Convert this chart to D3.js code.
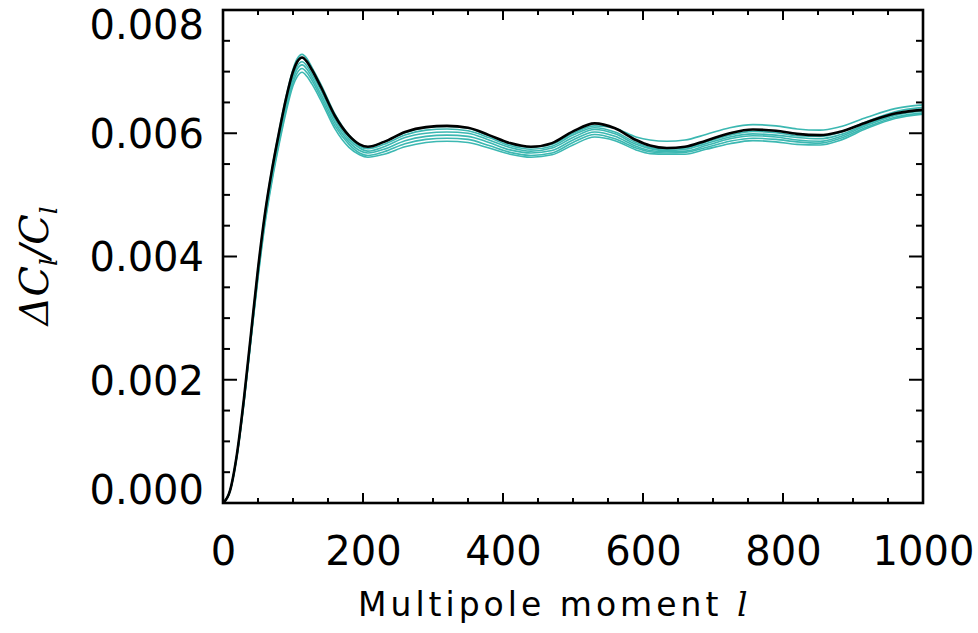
<!DOCTYPE html>
<html>
<head>
<meta charset="utf-8">
<script src="https://cdn.jsdelivr.net/npm/d3@7"></script>
<style>
  html, body { margin: 0; padding: 0; background: #fff; }
  svg { display: block; }
</style>
</head>
<body>
<svg id="chart" width="978" height="633"></svg>
<script>
// ---- data ----
const multipoles = [0,10,20,30,40,50,60,70,80,90,100,106,113,120,127,140,160,180,195,207,230,260,290,320,350,380,410,440,470,500,531,560,590,610,634,660,690,724,757,790,820,853,880,920,960,1000];

const fiducial = [0,0.00020,0.00080,0.00170,0.00275,0.00380,0.00470,0.00541,0.00601,0.00656,0.00700,0.00716,0.00723,0.00716,0.00703,0.00675,0.00628,0.00596,0.00582,0.00578,
  0.00586,0.00602,0.00610,0.00612,0.00609,0.00597,0.00584,0.00578,0.00584,0.00603,0.00616,0.00608,0.00589,0.00580,0.00576,0.00578,0.00588,0.00600,0.00606,0.00604,0.00599,0.00597,0.00602,0.00618,0.00632,0.00638];

const model1 = [0,0.00020,0.00080,0.00170,0.00275,0.00380,0.00471,0.00543,0.00604,0.00659,0.00704,0.00721,0.00728,0.00721,0.00707,0.00679,0.00631,0.00597,0.00582,0.00578,
  0.00586,0.00601,0.00609,0.00611,0.00608,0.00596,0.00583,0.00577,0.00582,0.00600,0.00612,0.00608,0.00594,0.00589,0.00587,0.00589,0.00598,0.00609,0.00614,0.00612,0.00607,0.00605,0.00610,0.00626,0.00640,0.00646];
const model2 = [0,0.00020,0.00079,0.00169,0.00273,0.00377,0.00467,0.00538,0.00599,0.00654,0.00699,0.00715,0.00722,0.00715,0.00702,0.00674,0.00626,0.00594,0.00579,0.00575,
  0.00582,0.00597,0.00605,0.00607,0.00604,0.00593,0.00580,0.00574,0.00579,0.00597,0.00609,0.00602,0.00585,0.00577,0.00574,0.00576,0.00586,0.00597,0.00603,0.00601,0.00596,0.00595,0.00601,0.00619,0.00635,0.00642];
const model3 = [0,0.00020,0.00079,0.00167,0.00271,0.00374,0.00464,0.00534,0.00594,0.00649,0.00693,0.00709,0.00716,0.00709,0.00696,0.00669,0.00622,0.00590,0.00576,0.00571,
  0.00578,0.00593,0.00600,0.00602,0.00600,0.00589,0.00577,0.00571,0.00576,0.00593,0.00606,0.00599,0.00582,0.00575,0.00572,0.00574,0.00583,0.00594,0.00599,0.00597,0.00593,0.00591,0.00597,0.00615,0.00631,0.00638];
const model4 = [0,0.00020,0.00078,0.00166,0.00269,0.00371,0.00460,0.00530,0.00590,0.00644,0.00688,0.00704,0.00711,0.00704,0.00691,0.00663,0.00617,0.00586,0.00572,0.00568,
  0.00574,0.00588,0.00595,0.00597,0.00595,0.00585,0.00573,0.00568,0.00572,0.00589,0.00602,0.00595,0.00579,0.00572,0.00570,0.00571,0.00580,0.00591,0.00596,0.00594,0.00589,0.00587,0.00594,0.00613,0.00629,0.00636];
const model5 = [0,0.00019,0.00077,0.00165,0.00267,0.00368,0.00457,0.00526,0.00585,0.00639,0.00682,0.00698,0.00705,0.00698,0.00686,0.00658,0.00612,0.00582,0.00568,0.00564,
  0.00570,0.00583,0.00590,0.00592,0.00590,0.00580,0.00569,0.00564,0.00568,0.00585,0.00598,0.00591,0.00576,0.00570,0.00568,0.00569,0.00577,0.00587,0.00592,0.00590,0.00586,0.00584,0.00591,0.00610,0.00626,0.00633];
const model6 = [0,0.00019,0.00077,0.00163,0.00265,0.00365,0.00453,0.00522,0.00581,0.00634,0.00677,0.00692,0.00699,0.00692,0.00680,0.00653,0.00607,0.00577,0.00565,0.00561,
  0.00566,0.00578,0.00585,0.00587,0.00585,0.00576,0.00566,0.00561,0.00565,0.00581,0.00594,0.00588,0.00573,0.00567,0.00566,0.00566,0.00574,0.00583,0.00588,0.00586,0.00582,0.00581,0.00588,0.00608,0.00624,0.00631];

const xTickValues = [0,200,400,600,800,1000];
const xTickLabels = ["0","200","400","600","800","1000"];
const yTickValues = [0,0.002,0.004,0.006,0.008];
const yTickLabels = ["0.000","0.002","0.004","0.006","0.008"];
const xMinorStep = 50;
const yMinorStep = 0.0005;

// ---- layout ----
const svg = d3.select("#chart");
const L = 223, R = 923, T = 10, B = 503;
const x = d3.scaleLinear().domain([0, 1000]).range([L, R]);
const y = d3.scaleLinear().domain([0, 0.008]).range([B, T]);

const tealColor = "#3cb8b2";
const tickFont = "'DejaVu Sans', sans-serif";

svg.append("clipPath").attr("id", "plotclip")
  .append("rect").attr("x", L).attr("y", T).attr("width", R - L).attr("height", B - T);

const line = d3.line()
  .x((d, i) => x(multipoles[i]))
  .y(d => y(d))
  .curve(d3.curveMonotoneX);

const g = svg.append("g").attr("clip-path", "url(#plotclip)");
[model6, model5, model4, model3, model2, model1].forEach(s => {
  g.append("path").attr("d", line(s))
    .attr("fill", "none").attr("stroke", tealColor).attr("stroke-width", 1.6);
});
g.append("path").attr("d", line(fiducial))
  .attr("fill", "none").attr("stroke", "#000").attr("stroke-width", 2.6);

// ---- ticks (inside, all four sides) ----
const xMinor = d3.range(0, 1000 + 1e-9, xMinorStep);
const yMinor = d3.range(0, 0.008 + 1e-12, yMinorStep);
const tg = svg.append("g").attr("stroke", "#000").attr("stroke-width", 2);
xMinor.forEach(v => {
  const major = xTickValues.some(t => Math.abs(t - v) < 1e-6);
  const len = major ? 10 : 5;
  tg.append("line").attr("x1", x(v)).attr("x2", x(v)).attr("y1", B).attr("y2", B - len);
  tg.append("line").attr("x1", x(v)).attr("x2", x(v)).attr("y1", T).attr("y2", T + len);
});
yMinor.forEach(v => {
  const major = yTickValues.some(t => Math.abs(t - v) < 1e-9);
  const len = major ? 14 : 7;
  tg.append("line").attr("y1", y(v)).attr("y2", y(v)).attr("x1", L).attr("x2", L + len);
  tg.append("line").attr("y1", y(v)).attr("y2", y(v)).attr("x1", R).attr("x2", R - len);
});

// frame
svg.append("rect").attr("x", L).attr("y", T).attr("width", R - L).attr("height", B - T)
  .attr("fill", "none").attr("stroke", "#000").attr("stroke-width", 2.6);

// ---- tick labels ----
const xAxis = d3.axisBottom(x).tickValues(xTickValues).tickFormat((d, i) => xTickLabels[i]).tickSize(0).tickPadding(0);
const xa = svg.append("g").attr("transform", `translate(0,${B})`).call(xAxis);
xa.select(".domain").remove();
xa.selectAll("text").attr("font-family", tickFont).attr("font-size", 40).attr("fill", "#000")
  .attr("dy", null).attr("y", 62);

const yAxis = d3.axisLeft(y).tickValues(yTickValues).tickFormat((d, i) => yTickLabels[i]).tickSize(0).tickPadding(0);
const ya = svg.append("g").attr("transform", `translate(${L - 19},0)`).call(yAxis);
ya.select(".domain").remove();
ya.selectAll("text").attr("font-family", tickFont).attr("font-size", 40).attr("fill", "#000")
  .attr("dy", (d, i) => i === 0 ? "-0.0em" : (i === yTickValues.length - 1 ? "0.72em" : "0.36em"));

// ---- axis titles ----
const xt = svg.append("text").attr("x", 358).attr("y", 616).attr("text-anchor", "start")
  .attr("font-family", tickFont).attr("font-size", 33).attr("fill", "#000").attr("letter-spacing", 4);
xt.append("tspan").text("Multipole moment ");
xt.append("tspan").attr("font-family", "'DejaVu Serif', serif").attr("font-style", "italic").text("l");

const yt = svg.append("text").attr("transform", "translate(48,266) rotate(-90)")
  .attr("text-anchor", "middle").attr("font-family", "'DejaVu Serif', serif")
  .attr("font-style", "italic").attr("font-size", 40).attr("fill", "#000");
yt.append("tspan").text("ΔC");
yt.append("tspan").attr("font-size", 24).attr("dy", 9).text("l");
yt.append("tspan").attr("dy", -9).text("/C");
yt.append("tspan").attr("font-size", 24).attr("dy", 9).text("l");
</script>
</body>
</html>
